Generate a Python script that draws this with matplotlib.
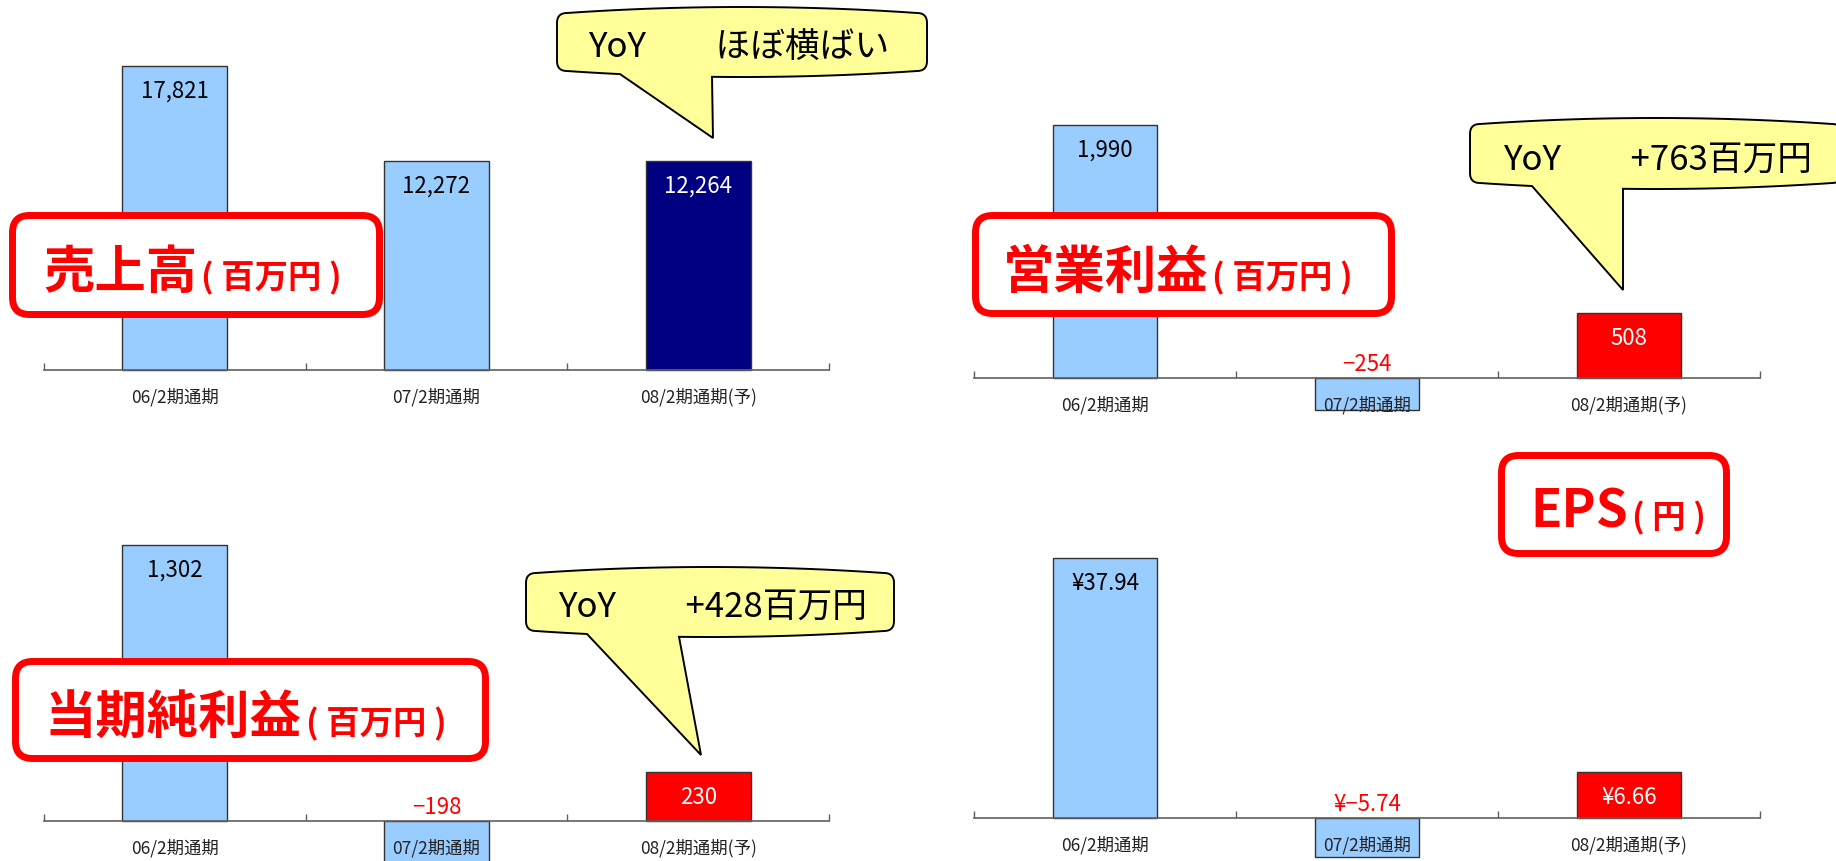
import numpy as np
import matplotlib
matplotlib.use("Agg")
import matplotlib.pyplot as plt
from matplotlib.patches import Polygon, FancyBboxPatch

plt.rcParams['font.family'] = ['Noto Sans CJK JP', 'DejaVu Sans']

# ---------------- data ----------------
categories = ["06/2期通期", "07/2期通期", "08/2期通期(予)"]
sales = [17821, 12272, 12264]            # 売上高(百万円)
op_income = [1990, -254, 508]            # 営業利益(百万円)
net_income = [1302, -198, 230]           # 当期純利益(百万円)
eps = [37.94, -5.74, 6.66]               # EPS(円)

titles_big = ["売上高", "営業利益", "当期純利益", "EPS"]
titles_small = ["( 百万円 )", "( 百万円 )", "( 百万円 )", "( 円 )"]
callouts = ["YoY　　ほぼ横ばい", "YoY　　+763百万円", "YoY　　+428百万円"]

LIGHT = "#99CCFF"
NAVY = "#000080"
RED = "#FF0000"

W, H = 1836, 861
fig = plt.figure(figsize=(W / 100, H / 100), dpi=100)
fig.patch.set_facecolor("white")


def px_rect(x0, x1, ytop, ybot):
    return [x0 / W, 1 - ybot / H, (x1 - x0) / W, (ybot - ytop) / H]


def fmt_int(v):
    return f"{v:,}".replace("-", "−")


def fmt_yen(v):
    return ("¥" + f"{v:.2f}").replace("-", "−")


def make_panel(rect, y0_px, top_px, ax_top, ax_bot, values, colors, fmt, inner_colors):
    ax = fig.add_axes(rect)
    ax.patch.set_alpha(0)
    vmax = values[0]
    k = (y0_px - top_px) / vmax
    ax.set_ylim(-(ax_bot - y0_px) / k, (y0_px - ax_top) / k)
    ax.set_xlim(-0.5, 2.5)
    x = np.arange(len(values))
    ax.bar(x, values, width=0.4, color=colors, edgecolor="#333333", linewidth=1.0, zorder=1)
    for xi, v, ic in zip(x, values, inner_colors):
        if v >= 0:
            ax.annotate(fmt(v), (xi, v), xytext=(0, -23), textcoords="offset points",
                        ha="center", va="baseline", fontsize=16, color=ic, zorder=3)
        else:
            ax.annotate(fmt(v), (xi, 0), xytext=(0, 5), textcoords="offset points",
                        ha="center", va="baseline", fontsize=16, color=RED, zorder=3)
    for s in ["top", "left", "right"]:
        ax.spines[s].set_visible(False)
    ax.spines["bottom"].set_position(("data", 0))
    ax.spines["bottom"].set_color("#606060")
    ax.spines["bottom"].set_linewidth(1.2)
    ax.yaxis.set_visible(False)
    ax.set_xticks([-0.5, 0.5, 1.5, 2.5])
    ax.set_xticklabels([])
    ax.set_xticks([0, 1, 2], minor=True)
    ax.set_xticklabels(categories, minor=True, fontsize=12.5, color="#222222")
    ax.tick_params(axis="x", which="major", direction="in", length=5, width=1, color="#606060")
    ax.tick_params(axis="x", which="minor", length=0, pad=13)
    return ax


make_panel(px_rect(44, 829, 0, 430), 370, 66, 0, 430, sales,
           [LIGHT, LIGHT, NAVY], fmt_int, ["black", "black", "white"])
make_panel(px_rect(974, 1760, 0, 430), 378, 125, 0, 430, op_income,
           [LIGHT, LIGHT, RED], fmt_int, ["black", "black", "white"])
make_panel(px_rect(44, 829, 430, 861), 821, 545, 430, 861, net_income,
           [LIGHT, LIGHT, RED], fmt_int, ["black", "black", "white"])
make_panel(px_rect(974, 1760, 430, 861), 818, 558, 430, 861, eps,
           [LIGHT, LIGHT, RED], fmt_yen, ["black", "black", "white"])

T = fig.dpi_scale_trans


def P(x, y):
    return (x / 100, (H - y) / 100)


# ---------------- callouts ----------------
def callout(x0, x1, yT, yB, bx0, bx1, tx, ty, b=6, r=10):
    def quad(p0, c, p1, n=10):
        t = np.linspace(0, 1, n)[:, None]
        p0, c, p1 = map(np.array, (p0, c, p1))
        return (1 - t) ** 2 * p0 + 2 * (1 - t) * t * c + t ** 2 * p1
    xm = (x0 + x1) / 2
    hw = (x1 - x0) / 2 - r
    pts = []
    pts += [(x0, yB - b - r), (x0, yT + b + r)]
    pts += list(quad((x0, yT + b + r), (x0, yT + b), (x0 + r, yT + b)))
    xs = np.linspace(x0 + r, x1 - r, 80)
    pts += list(zip(xs, yT + b * ((xs - xm) / hw) ** 2))
    pts += list(quad((x1 - r, yT + b), (x1, yT + b), (x1, yT + b + r)))
    pts += [(x1, yB - b - r)]
    pts += list(quad((x1, yB - b - r), (x1, yB - b), (x1 - r, yB - b)))
    xs = np.linspace(x1 - r, bx1, 40)
    pts += list(zip(xs, yB - b * ((xs - xm) / hw) ** 2))
    pts += [(tx, ty)]
    xs = np.linspace(bx0, x0 + r, 40)
    pts += list(zip(xs, yB - b * ((xs - xm) / hw) ** 2))
    pts += list(quad((x0 + r, yB - b), (x0, yB - b), (x0, yB - b - r)))
    verts = [P(x, y) for x, y in pts]
    poly = Polygon(verts, closed=True, transform=T, facecolor="#FFFF99",
                   edgecolor="black", linewidth=1.4, zorder=2)
    fig.add_artist(poly)


callout(557, 927, 7, 77, 620, 712, 713, 138)
callout(1470, 1842, 118, 189, 1532, 1623, 1623, 290)
callout(526, 894, 567, 637, 587, 679, 701, 755)

for (x, y), s in zip([(588, 58), (1503, 170), (558, 617)], callouts):
    fig.text(*P(x, y), s, transform=T, fontsize=25, color="black",
             ha="left", va="baseline", zorder=5)

# ---------------- red title boxes ----------------
boxes = [(12.5, 379.5, 215.5, 314.5), (975.5, 1391.5, 215.5, 313.5),
         (15.5, 485.5, 661.5, 758.5), (1501.5, 1726.5, 455.5, 553.5)]
for x0, x1, yt, yb in boxes:
    bx, by = P(x0, yb)
    fb = FancyBboxPatch((bx, by), (x1 - x0) / 100, (yb - yt) / 100,
                        boxstyle="round,pad=0,rounding_size=0.17", transform=T,
                        facecolor="white", edgecolor=RED, linewidth=5, zorder=3)
    fig.add_artist(fb)

title_pos = [(43, 288), (1003, 288), (45, 734), (1530, 528)]
renderer = fig.canvas.get_renderer()
for (x, y), big, small in zip(title_pos, titles_big, titles_small):
    t = fig.text(*P(x, y), big, transform=T, fontsize=37, color=RED,
                 fontweight="bold", ha="left", va="baseline", zorder=6)
    bb = t.get_window_extent(renderer)
    fig.text((bb.x1 + 4) / 100, (H - y) / 100, small, transform=T, fontsize=24,
             color=RED, fontweight="bold", ha="left", va="baseline", zorder=6)

fig.savefig("out.png", dpi=100, facecolor="white")
